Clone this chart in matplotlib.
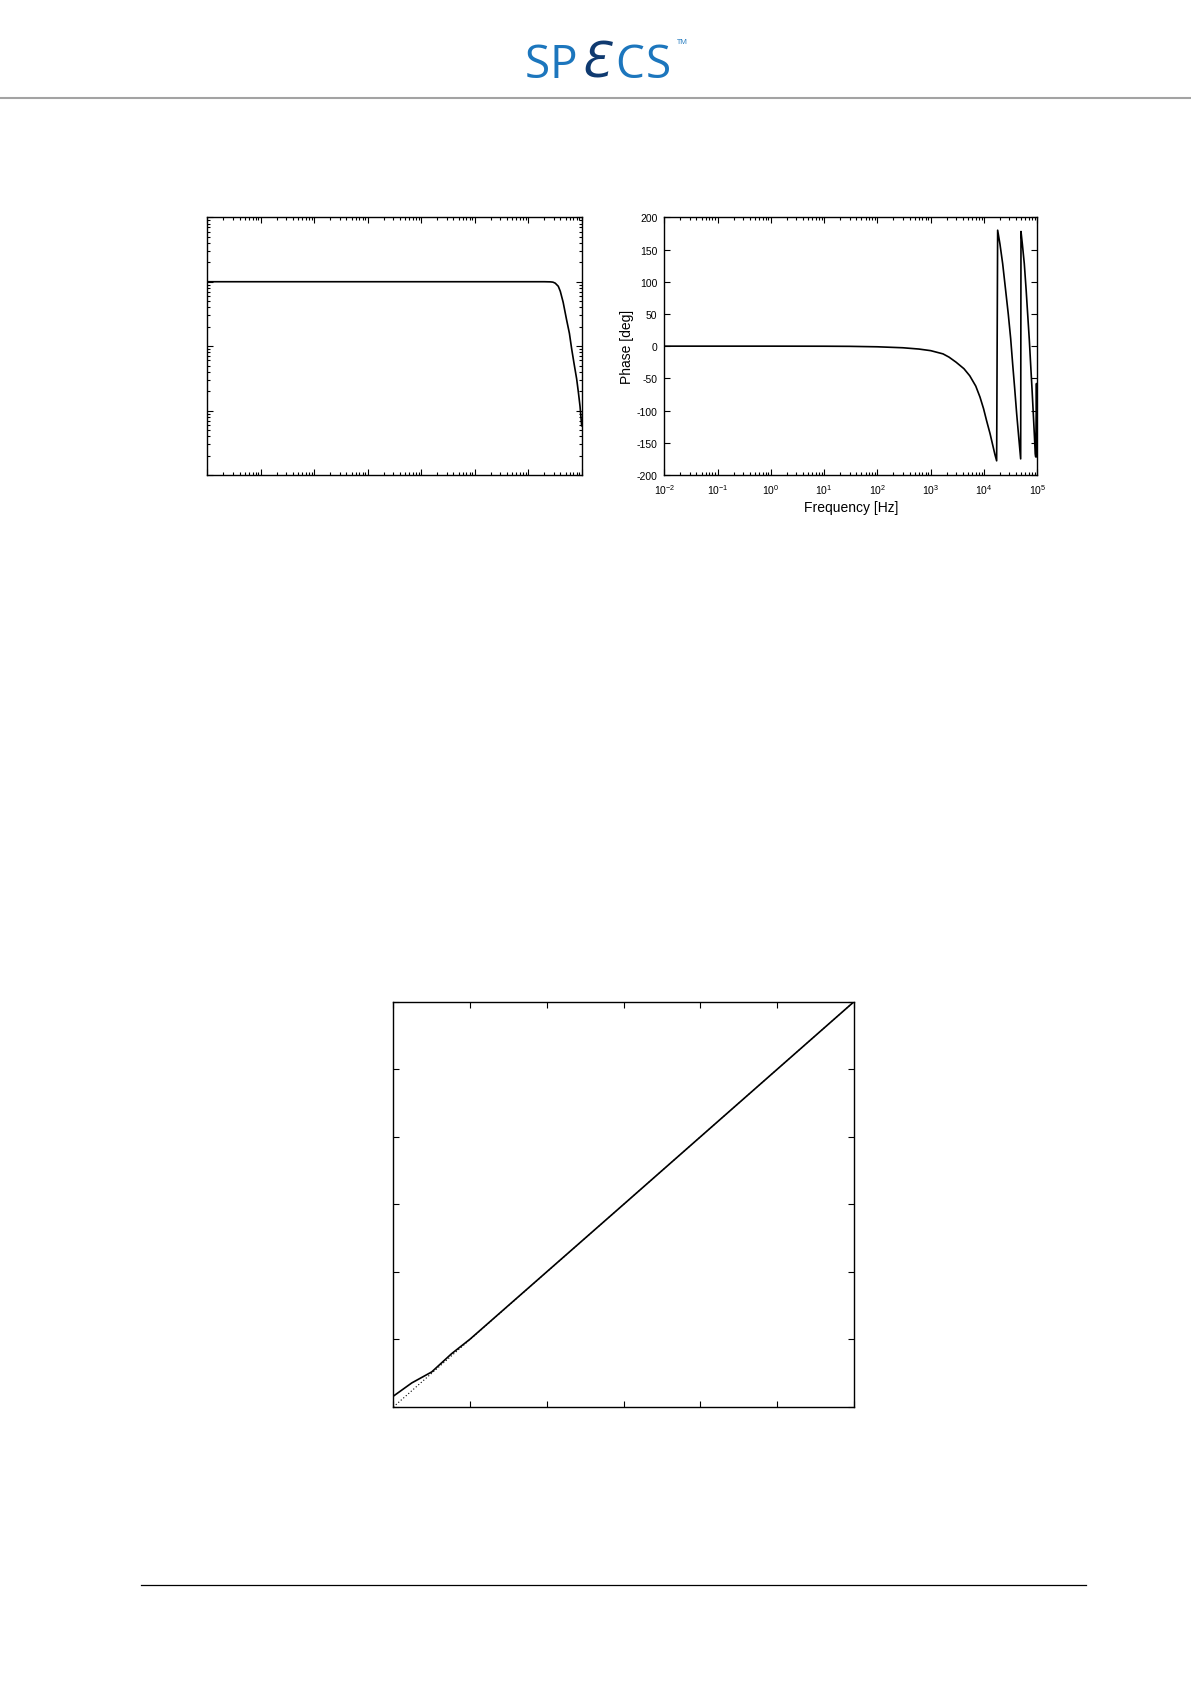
import matplotlib
matplotlib.use("Agg")
from matplotlib import pyplot as plt
from matplotlib.lines import Line2D
from matplotlib.ticker import LogLocator, NullFormatter, MultipleLocator

plt.rcParams['font.family'] = ['Liberation Sans', 'DejaVu Sans']
plt.rcParams['mathtext.fontset'] = 'custom'
plt.rcParams['mathtext.rm'] = 'Liberation Sans'

# magnitude (gain) vs frequency
mag_freq = [1e-2, 1e-1, 1, 10, 100, 1000, 1e4, 2.0e4, 2.6e4, 2.9e4, 3.2e4, 3.65e4,
            3.98e4, 4.5e4, 5.2e4, 5.89e4, 6.5e4, 7.24e4, 8.05e4, 8.71e4, 9.3e4, 1e5]
mag_gain = [1.0, 1.0, 1.0, 1.0, 1.0, 1.0, 1.0, 1.0, 0.995, 0.985, 0.95, 0.85,
            0.71, 0.48, 0.26, 0.158, 0.09, 0.052, 0.031, 0.0186, 0.0117, 0.0058]

# phase vs frequency
ph_freq = [1e-2, 1, 10, 30, 100, 300, 600, 1000, 1700, 2200, 3000, 4200, 5400, 7000,
           8400, 9800, 11200, 13000, 14900, 16000, 17260,
           18030, 19950, 22390, 25120, 28510, 31620, 34510, 37580, 41020, 44670, 48750,
           49430, 52480, 57020, 61660, 65920, 70790, 74990, 79430, 84140, 88100, 91620,
           93500, 96600, 100000]
ph_deg = [0, 0, -0.1, -0.3, -1, -2.5, -4.5, -7, -12, -17, -25, -35, -46, -62,
          -79, -97, -116, -136, -157, -168, -178,
          180, 158, 128, 91, 50, 12, -28, -65, -105, -140, -175,
          178, 158, 128, 88, 50, 10, -28, -65, -105, -138, -167,
          -172, -58, -172]
ph_ticks = [200, 150, 100, 50, 0, -50, -100, -150, -200]

# linearity plot: measured vs ideal
lin_x = [0, 0.24, 0.5, 0.76, 1.0, 3.0, 6.0]
lin_y = [0.16, 0.356, 0.519, 0.79, 1.005, 3.0, 6.0]
ideal_x = [0, 6]
ideal_y = [0, 6]

W, H = 1191, 1683
fig = plt.figure(figsize=(W / 100, H / 100), dpi=100)


def box(x0, y0, x1, y1):
    return [x0 / W, 1 - y1 / H, (x1 - x0) / W, (y1 - y0) / H]


def gp_style(ax, lw=1.0):
    for s in ax.spines.values():
        s.set_linewidth(lw)
    ax.tick_params(which='both', direction='in', top=True, right=True, width=0.8)
    ax.tick_params(which='major', length=4.5, labelsize=7.5, pad=5)
    ax.tick_params(which='minor', length=2.5)


# header / footer
fig.add_artist(Line2D([0, 1], [1 - 99 / H, 1 - 99 / H], transform=fig.transFigure,
                      color='#a3a3a3', lw=1.5))
fig.add_artist(Line2D([141 / W, 1086 / W], [1 - 1586 / H, 1 - 1586 / H],
                      transform=fig.transFigure, color='black', lw=0.9))

# SPECS logo
blue = '#1c76bd'
navy = '#0f3a70'
ly = 1 - 78 / H
for ch, x, col, st, fs in [('S', 525, blue, 'normal', 33), ('P', 550, blue, 'normal', 33),
                           ('Ɛ', 579, navy, 'italic', 35), ('C', 615, blue, 'normal', 33),
                           ('S', 646, blue, 'normal', 33)]:
    fig.text(x / W, ly, ch, color=col, fontsize=fs, fontstyle=st,
             family=['Open Sans', 'DejaVu Sans'], va='baseline', ha='left')
fig.text(677 / W, 1 - 44 / H, 'TM', color=blue, fontsize=5.5, family='Open Sans')

# magnitude plot (left)
ax1 = fig.add_axes(box(207.3, 218.3, 581.7, 476))
ax1.plot(mag_freq, mag_gain, color='black', lw=1.2)
ax1.set_xscale('log')
ax1.set_yscale('log')
ax1.set_xlim(1e-2, 1e5)
ax1.set_ylim(1e-3, 1e1)
ax1.xaxis.set_major_locator(LogLocator(base=10, numticks=20))
ax1.xaxis.set_minor_locator(LogLocator(base=10, subs=range(2, 10), numticks=20))
ax1.yaxis.set_minor_locator(LogLocator(base=10, subs=range(2, 10), numticks=20))
ax1.xaxis.set_major_formatter(NullFormatter())
ax1.yaxis.set_major_formatter(NullFormatter())
ax1.xaxis.set_minor_formatter(NullFormatter())
ax1.yaxis.set_minor_formatter(NullFormatter())
gp_style(ax1)

# phase plot (right)
ax2 = fig.add_axes(box(664.3, 218.3, 1037.3, 476))
ax2.plot(ph_freq, ph_deg, color='black', lw=1.2)
ax2.set_xscale('log')
ax2.set_xlim(1e-2, 1e5)
ax2.set_ylim(-200, 200)
ax2.set_yticks(ph_ticks)
ax2.set_yticklabels([str(t) for t in ph_ticks])
ax2.xaxis.set_major_locator(LogLocator(base=10, numticks=20))
ax2.xaxis.set_minor_locator(LogLocator(base=10, subs=range(2, 10), numticks=20))
ax2.xaxis.set_minor_formatter(NullFormatter())
ax2.set_xlabel('Frequency [Hz]', fontsize=10, labelpad=3)
ax2.set_ylabel('Phase [deg]', fontsize=10, labelpad=2)
gp_style(ax2)

# linearity plot (bottom)
ax3 = fig.add_axes(box(393.3, 1002.7, 854, 1408))
ax3.plot(ideal_x, ideal_y, color='black', lw=0.8, ls=(0, (1, 2)))
ax3.plot(lin_x, lin_y, color='black', lw=1.2)
ax3.set_xlim(0, 6)
ax3.set_ylim(0, 6)
ax3.xaxis.set_major_locator(MultipleLocator(1))
ax3.yaxis.set_major_locator(MultipleLocator(1))
ax3.set_xticklabels([])
ax3.set_yticklabels([])
gp_style(ax3)

fig.savefig('out.png', dpi=100, facecolor='white')
